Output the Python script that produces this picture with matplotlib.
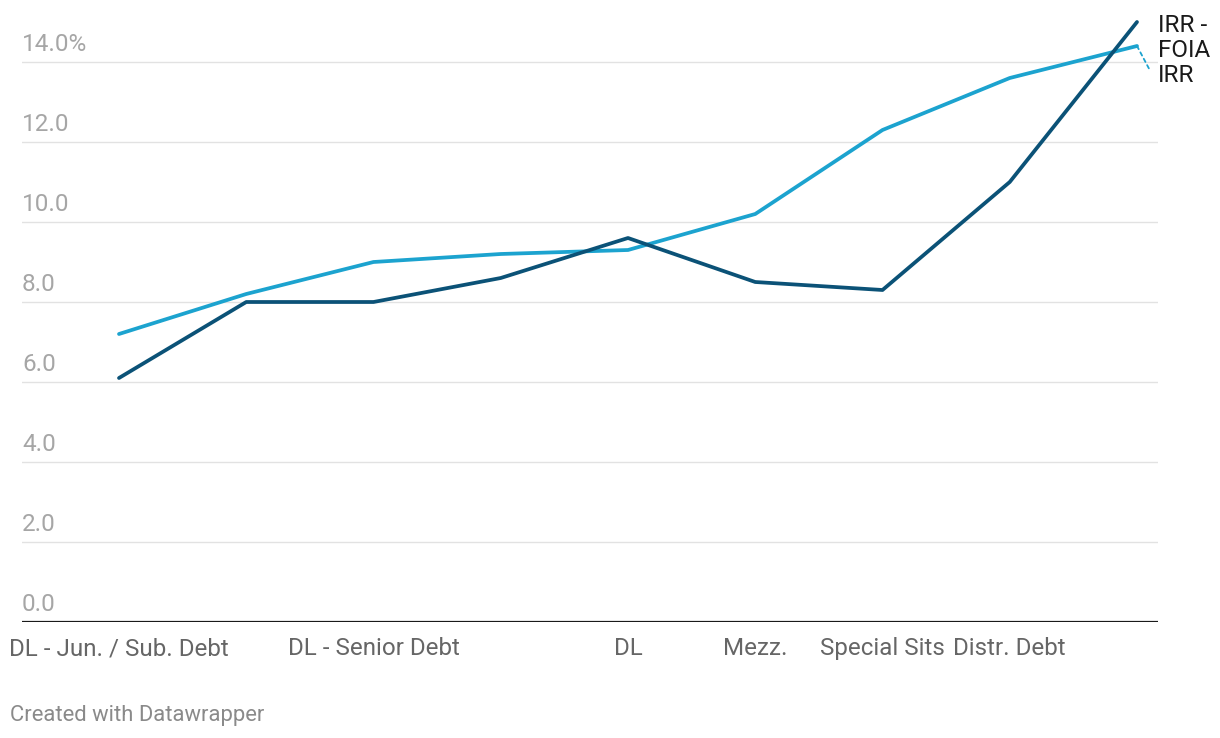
import matplotlib.pyplot as plt

plt.rcParams['font.family'] = ['Roboto', 'DejaVu Sans']

# categories (empty = label not shown in the original)
categories = ["DL - Jun. / Sub. Debt", "", "DL - Senior Debt", "", "DL",
              "Mezz.", "Special Sits", "Distr. Debt", ""]
irr_foia = [6.1, 8.0, 8.0, 8.6, 9.6, 8.5, 8.3, 11.0, 15.0]
irr = [7.2, 8.2, 9.0, 9.2, 9.3, 10.2, 12.3, 13.6, 14.4]
yticks = [0, 2, 4, 6, 8, 10, 12, 14]
ytick_labels = ["0.0", "2.0", "4.0", "6.0", "8.0", "10.0", "12.0", "14.0%"]

dark = '#0b5277'
light = '#1ca3cf'

W, H = 1220, 738
fig = plt.figure(figsize=(W / 100, H / 100), dpi=100)
ax = fig.add_axes([22 / W, (H - 622) / H, (1158 - 22) / W, (622 - 12) / H])

x = list(range(len(categories)))
ax.set_xlim(-(119 - 22) / 127.25, 8 + (1158 - 1137) / 127.25)
ax.set_ylim(0, (622 - 12) / 40)

for v in yticks[1:]:
    ax.axhline(v, color='#e2e2e2', lw=1, zorder=0)
for v, lab in zip(yticks, ytick_labels):
    ax.annotate(lab, (0, v), xycoords=('axes fraction', 'data'),
                xytext=(0, 4), textcoords='offset points',
                ha='left', va='bottom', fontsize=17.5, color='#a6a6a6')
ax.axhline(0, color='#1a1a1a', lw=1.6, zorder=3)

ax.plot(x, irr, color=light, lw=2.7, solid_capstyle='round', zorder=4)
ax.plot(x, irr_foia, color=dark, lw=2.7, solid_capstyle='round', zorder=5)

for xi, lab in zip(x, categories):
    ax.text(xi, -0.38, lab, ha='center', va='top', fontsize=17.4, color='#666666')

# end labels
ax.annotate("IRR -\nFOIA", (x[-1], irr_foia[-1]), xytext=(15, -11.5),
            textcoords='offset points', ha='left', va='center',
            fontsize=17.5, color='#1a1a1a', linespacing=1.1)
ax.annotate("IRR", (x[-1], irr[-1]), xytext=(15, -21.5),
            textcoords='offset points', ha='left', va='center',
            fontsize=17.5, color='#1a1a1a')
ax.annotate("", (x[-1] + 0.1, irr[-1] - 0.6), xytext=(x[-1], irr[-1]),
            arrowprops=dict(arrowstyle='-', color=light, lw=1.3, ls=(0, (2, 2)),
                            shrinkA=0, shrinkB=0))

ax.axis('off')

fig.text(10 / W, 1 - 715 / H, "Created with Datawrapper", ha='left', va='center',
         fontsize=15.8, color='#8a8a8a')

fig.savefig('out.png', dpi=100)
